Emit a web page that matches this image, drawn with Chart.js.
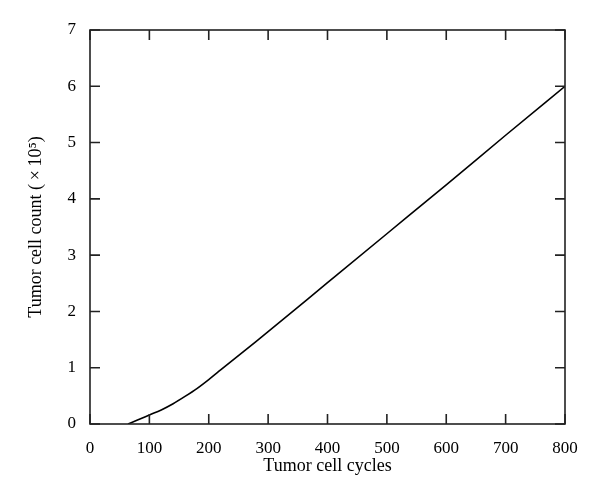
<!DOCTYPE html>
<html>
<head>
<meta charset="utf-8">
<script src="https://cdn.jsdelivr.net/npm/chart.js@4.4.0/dist/chart.umd.min.js"></script>
<style>
  html, body { margin: 0; padding: 0; background: #fff; }
  #chart { display: block; }
</style>
</head>
<body>
<canvas id="chart" width="600" height="500"></canvas>
<script>
const cycles = [64, 80, 100, 120, 140, 160, 180, 200, 220, 240, 260, 280, 300, 400, 500, 600, 700, 800];
const cellCount = [0, 0.07, 0.16, 0.25, 0.36, 0.49, 0.63, 0.79, 0.96, 1.13, 1.30, 1.47, 1.64, 2.51, 3.38, 4.25, 5.13, 6.0];

const xTitle = 'Tumor cell cycles';
const yTitle = 'Tumor cell count (\u2009\u00d7\u200910\u2075)';

const fontFamily = '"Liberation Serif", "DejaVu Serif", serif';

// box around the plot plus short inward ticks on all four sides
const frameTicks = {
    id: 'frameTicks',
    afterDraw(chart) {
        const ctx = chart.ctx;
        const area = chart.chartArea;
        const xs = chart.scales.x;
        const ys = chart.scales.y;
        const len = 10;
        ctx.save();
        ctx.strokeStyle = '#222';
        ctx.lineWidth = 1.6;
        ctx.strokeRect(area.left, area.top, area.right - area.left, area.bottom - area.top);
        ctx.beginPath();
        xs.ticks.forEach(t => {
            const px = xs.getPixelForValue(t.value);
            ctx.moveTo(px, area.bottom);
            ctx.lineTo(px, area.bottom - len);
            ctx.moveTo(px, area.top);
            ctx.lineTo(px, area.top + len);
        });
        ys.ticks.forEach(t => {
            const py = ys.getPixelForValue(t.value);
            ctx.moveTo(area.left, py);
            ctx.lineTo(area.left + len, py);
            ctx.moveTo(area.right, py);
            ctx.lineTo(area.right - len, py);
        });
        ctx.stroke();
        ctx.restore();
    }
};

const ctx = document.getElementById('chart').getContext('2d');

const chart = new Chart(ctx, {
    type: 'line',
    data: {
        datasets: [{
            data: cycles.map((c, i) => ({ x: c, y: cellCount[i] })),
            borderColor: '#000',
            borderWidth: 1.6,
            pointRadius: 0,
            fill: false,
            cubicInterpolationMode: 'monotone'
        }]
    },
    options: {
        responsive: false,
        animation: false,
        layout: { padding: { top: 30, right: 35, left: 0, bottom: 0 } },
        plugins: {
            legend: { display: false },
            tooltip: { enabled: false }
        },
        scales: {
            x: {
                type: 'linear',
                min: 0,
                max: 800,
                ticks: {
                    stepSize: 100,
                    color: '#000',
                    padding: 6,
                    maxRotation: 0,
                    font: { family: fontFamily, size: 17 }
                },
                grid: { display: false },
                border: { display: false },
                title: {
                    display: true,
                    text: xTitle,
                    color: '#000',
                    font: { family: fontFamily, size: 18 },
                    padding: { top: 4, bottom: 23 }
                },
                afterFit(scale) { scale.height = 76; }
            },
            y: {
                min: 0,
                max: 7,
                ticks: {
                    stepSize: 1,
                    color: '#000',
                    padding: 6,
                    font: { family: fontFamily, size: 17 }
                },
                grid: { display: false },
                border: { display: false },
                title: {
                    display: true,
                    text: yTitle,
                    color: '#000',
                    font: { family: fontFamily, size: 18 },
                    padding: { top: 25, bottom: 4 }
                },
                afterFit(scale) { scale.width = 90; }
            }
        }
    },
    plugins: [frameTicks]
});
</script>
</body>
</html>
